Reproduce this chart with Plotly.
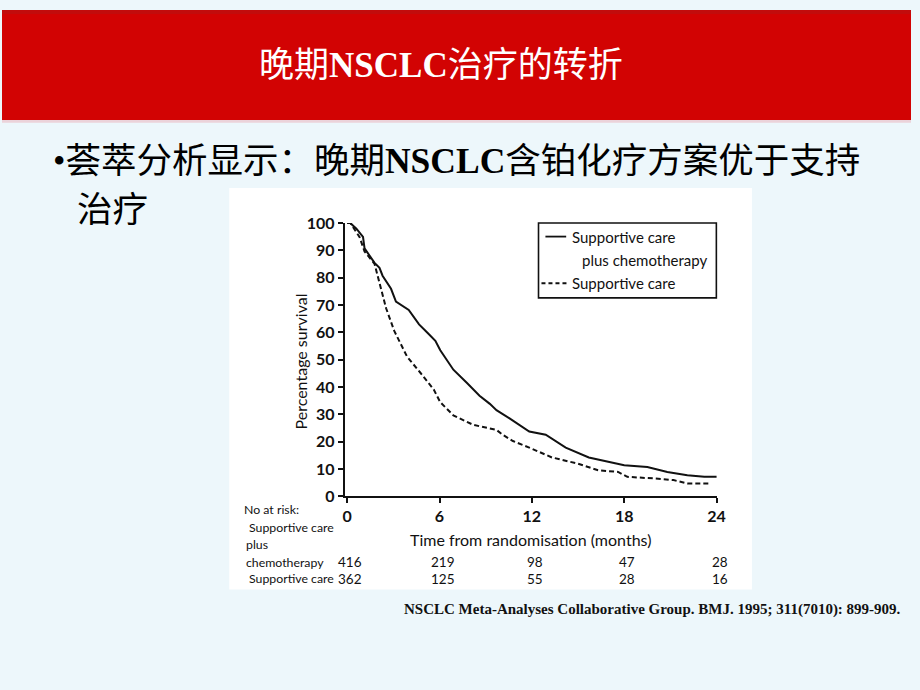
import plotly.graph_objects as go

W, H = 920, 690

# ---- data ----
t_chemo = [0, 0.2, 0.6, 1.03, 1.13, 1.78, 2.1, 2.3, 2.85, 3.17, 4.0, 4.67, 5.2, 5.73, 6.05,
           6.9, 7.77, 8.6, 9.27, 9.7, 10.55, 11.83, 12.9, 14.2, 15.7, 16.75, 18.0, 19.5,
           20.8, 22.1, 23.2, 24.0]
s_chemo = [100, 100, 97.9, 94.9, 90.7, 85.4, 83.6, 80.7, 75.9, 71.2, 68.2, 62.9, 59.9, 56.9, 53.4,
           46.3, 41.5, 36.8, 33.8, 31.5, 28.5, 23.7, 22.5, 17.8, 14.2, 13.0, 11.3, 10.7,
           8.9, 7.7, 7.1, 7.1]

t_sc = [0, 0.2, 0.8, 1.13, 1.78, 2.1, 2.53, 3.06, 3.9, 4.77, 5.62, 6.05, 6.9, 8.2, 9.27,
        9.7, 10.1, 10.77, 11.83, 13.3, 15.0, 16.3, 17.6, 18.2, 19.97, 21.2, 22.1, 23.5]
s_sc = [100, 100, 94.9, 89.6, 85.0, 78.3, 68.8, 60.5, 51.0, 45.1, 39.1, 34.4, 29.6, 26.1, 24.9,
        24.3, 22.5, 20.2, 17.8, 14.2, 11.9, 9.5, 8.9, 7.1, 6.5, 5.9, 4.7, 4.7]

x_ticks = [0, 6, 12, 18, 24]
y_ticks = [0, 10, 20, 30, 40, 50, 60, 70, 80, 90, 100]
risk_chemo = [416, 219, 98, 47, 28]
risk_sc = [362, 125, 55, 28, 16]

title_text = "晚期<b>NSCLC</b>治疗的转折"
bullet_line1 = "•荟萃分析显示：晚期<b>NSCLC</b>含铂化疗方案优于支持"
bullet_line2 = "治疗"
legend_labels = ["Supportive care", "plus chemotherapy", "Supportive care"]
citation = "NSCLC Meta-Analyses Collaborative Group. BMJ. 1995; 311(7010): 899-909."


def px(x):
    return x / W


def py(y):
    return 1 - y / H


CJK = "Liberation Serif, Noto Sans CJK SC"
SANS = "Lato, Open Sans, sans-serif"
INK = "#111111"

fig = go.Figure()
fig.add_trace(go.Scatter(x=t_chemo, y=s_chemo, mode="lines",
                         line=dict(color=INK, width=2), cliponaxis=False,
                         showlegend=False, hoverinfo="skip"))
fig.add_trace(go.Scatter(x=t_sc, y=s_sc, mode="lines",
                         line=dict(color=INK, width=2, dash="5px,3px"), cliponaxis=False,
                         showlegend=False, hoverinfo="skip"))

shapes = [
    # red header band
    dict(type="rect", xref="paper", yref="paper", x0=0, x1=1, y0=py(113), y1=1,
         fillcolor="#D20303", line_width=0, layer="below"),
    dict(type="rect", xref="paper", yref="paper", x0=0, x1=1, y0=py(4), y1=1,
         fillcolor="#C20C0C", line_width=0, layer="below"),
    dict(type="rect", xref="paper", yref="paper", x0=0, x1=1, y0=py(116), y1=py(113),
         fillcolor="#EBD3DA", line_width=0, layer="below"),
    # white picture area
    dict(type="rect", xref="paper", yref="paper", x0=px(230), x1=px(759), y0=py(596), y1=py(183),
         fillcolor="#FFFFFF", line_width=0, layer="below"),
    # legend box
    dict(type="rect", xref="paper", yref="paper", x0=px(543), x1=px(723), y0=py(296), y1=py(219),
         fillcolor="rgba(0,0,0,0)", line=dict(color=INK, width=1.6)),
    dict(type="line", xref="paper", yref="paper", x0=px(550), x1=px(571), y0=py(233), y1=py(233),
         line=dict(color=INK, width=1.8)),
    dict(type="line", xref="paper", yref="paper", x0=px(546), x1=px(573), y0=py(281), y1=py(281),
         line=dict(color=INK, width=1.8, dash="4px,3px")),
]

ann = []
ann.append(dict(text=title_text, xref="paper", yref="paper", x=px(444), y=py(57),
                xanchor="center", yanchor="middle", showarrow=False,
                font=dict(family=CJK, size=35, color="white")))
ann.append(dict(text=bullet_line1, xref="paper", yref="paper", x=px(50), y=py(155),
                xanchor="left", yanchor="middle", showarrow=False,
                font=dict(family=CJK, size=35.5, color="#000000")))
ann.append(dict(text=bullet_line2, xref="paper", yref="paper", x=px(74), y=py(206),
                xanchor="left", yanchor="middle", showarrow=False,
                font=dict(family=CJK, size=35.5, color="#000000")))
# legend text
leg_font = dict(family=SANS, size=15, color=INK)
for txt, x, y in [(legend_labels[0], 575, 233), (legend_labels[1], 585, 257),
                  (legend_labels[2], 575, 281)]:
    ann.append(dict(text=txt, xref="paper", yref="paper", x=px(x), y=py(y),
                    xanchor="left", yanchor="middle", showarrow=False, font=leg_font))
# axis titles
ann.append(dict(text="Percentage survival", xref="paper", yref="paper", x=px(302), y=py(361),
                xanchor="center", yanchor="middle", showarrow=False, textangle=-90,
                font=dict(family=SANS, size=16, color=INK)))
ann.append(dict(text="Time from randomisation (months)", xref="paper", yref="paper",
                x=px(535), y=py(544), xanchor="center", yanchor="middle", showarrow=False,
                font=dict(family=SANS, size=16, color=INK)))
# number at risk table
tbl_font = dict(family=SANS, size=12.3, color=INK)
for txt, x, y in [("No at risk:", 243, 514), ("Supportive care", 248, 532), ("plus", 245, 550),
                  ("chemotherapy", 245, 568), ("Supportive care", 248, 585)]:
    ann.append(dict(text=txt, xref="paper", yref="paper", x=px(x), y=py(y),
                    xanchor="left", yanchor="middle", showarrow=False, font=tbl_font))
num_font = dict(family=SANS, size=13.5, color=INK)
for t, a, b in zip(x_ticks, risk_chemo, risk_sc):
    ann.append(dict(text=str(a), xref="x", yref="paper", x=t, y=py(568), xshift=3,
                    xanchor="center", yanchor="middle", showarrow=False, font=num_font))
    ann.append(dict(text=str(b), xref="x", yref="paper", x=t, y=py(585), xshift=3,
                    xanchor="center", yanchor="middle", showarrow=False, font=num_font))
# citation
ann.append(dict(text="<b>" + citation + "</b>", xref="paper", yref="paper", x=px(912), y=py(616),
                xanchor="right", yanchor="middle", showarrow=False,
                font=dict(family="Liberation Serif, Times New Roman, serif", size=15,
                          color=INK)))

tick_font = dict(family=SANS, size=16, color=INK, weight="bold")
fig.update_layout(
    width=W, height=H, margin=dict(l=0, r=0, t=0, b=0),
    paper_bgcolor="#EDF7FB", plot_bgcolor="rgba(0,0,0,0)",
    shapes=shapes, annotations=ann, showlegend=False,
    xaxis=dict(domain=[px(347), px(724)], range=[-0.15, 24.05], tickvals=x_ticks,
               ticks="outside", ticklen=5, tickwidth=1.5, tickcolor=INK,
               showline=True, linewidth=2, linecolor=INK, showgrid=False, zeroline=False,
               tickfont=tick_font, fixedrange=True),
    yaxis=dict(domain=[1 - 500 / H, 1 - 219 / H], range=[0, 100], tickvals=y_ticks,
               ticks="outside", ticklen=5, tickwidth=1.5, tickcolor=INK,
               showline=True, linewidth=2, linecolor=INK, showgrid=False, zeroline=False,
               tickfont=tick_font, fixedrange=True),
)

fig.write_html("out.html", post_script="document.body.style.margin='0px';")
